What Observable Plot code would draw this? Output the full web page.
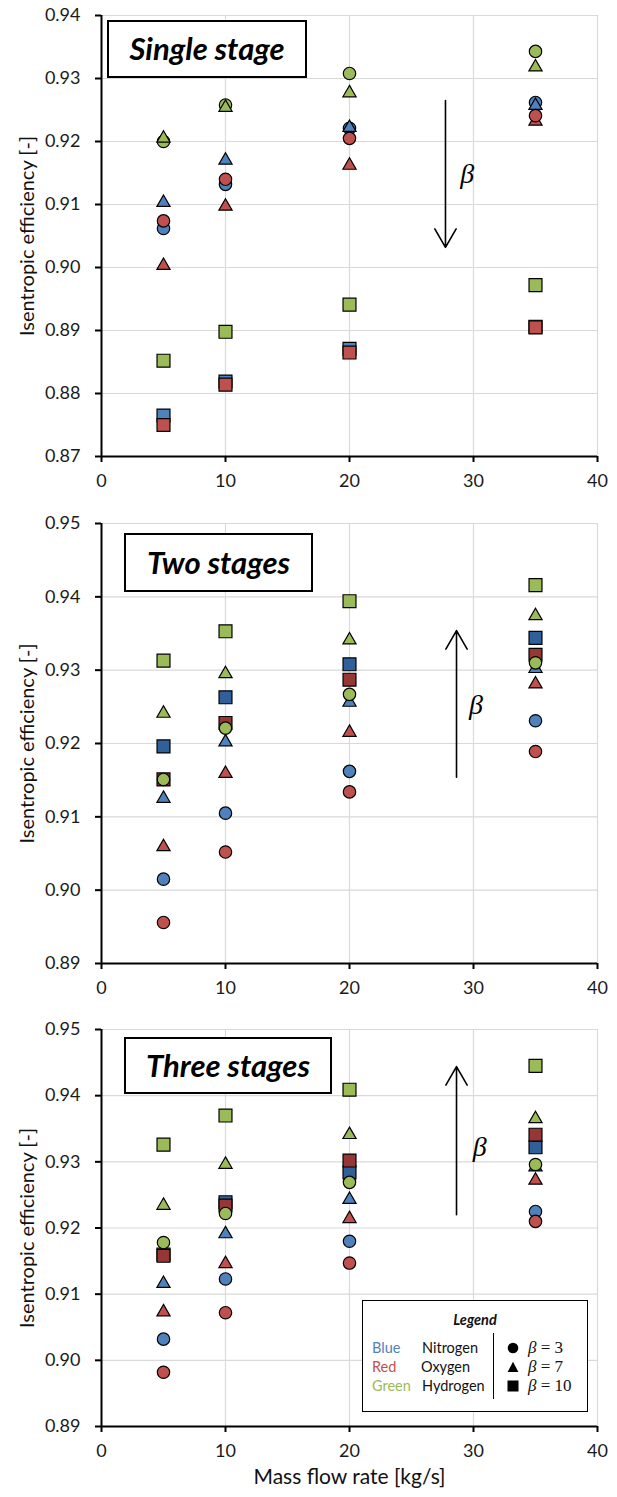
<!DOCTYPE html>
<html><head><meta charset="utf-8">
<script src="https://cdn.jsdelivr.net/npm/d3@7"></script>
<script src="https://cdn.jsdelivr.net/npm/@observablehq/plot@0.6"></script>
<style>
body{margin:0;background:#fff;font-family:Lato,"Open Sans",sans-serif;}
.panel{position:relative;width:617px;}
.panel svg{display:block;}
.tbox{position:absolute;border:2px solid #000;background:#fff;box-sizing:border-box;display:flex;align-items:center;justify-content:center;font-weight:bold;font-style:italic;font-size:31px;color:#000;padding-bottom:2px;}
.legend{position:absolute;border:1px solid #000;background:#fff;box-sizing:border-box;font-size:14.5px;color:#111;}
.legend div{position:absolute;white-space:nowrap;line-height:1;}
.math{font-family:"Liberation Serif",serif;font-size:17px;}
</style></head>
<body><div id="chart"></div>
<script>
// ---- data ----
const flows = [5, 10, 20, 35];            // mass flow rate [kg/s]
const gases = ["Nitrogen", "Oxygen", "Hydrogen"];
const betas = [3, 7, 10];

// Single stage: rows = beta 3, 7, 10 ; columns = flows
const single_N2 = [[0.9062, 0.9132, 0.9221, 0.9262], [0.9103, 0.9170, 0.9222, 0.9257], [0.8765, 0.8819, 0.8871, 0.8906]];
const single_O2 = [[0.9074, 0.9140, 0.9205, 0.9241], [0.9003, 0.9097, 0.9162, 0.9232], [0.8750, 0.8814, 0.8865, 0.8905]];
const single_H2 = [[0.9200, 0.9258, 0.9308, 0.9343], [0.9205, 0.9254, 0.9277, 0.9318], [0.8852, 0.8898, 0.8941, 0.8972]];

// Two stages
const two_N2 = [[0.9015, 0.9105, 0.9162, 0.9231], [0.9125, 0.9202, 0.9256, 0.9302], [0.9196, 0.9263, 0.9308, 0.9344]];
const two_O2 = [[0.8956, 0.9052, 0.9134, 0.9189], [0.9059, 0.9159, 0.9215, 0.9281], [0.9151, 0.9228, 0.9287, 0.9321]];
const two_H2 = [[0.9151, 0.9221, 0.9267, 0.9310], [0.9241, 0.9295, 0.9341, 0.9374], [0.9313, 0.9353, 0.9394, 0.9416]];

// Three stages
const three_N2 = [[0.9032, 0.9123, 0.9180, 0.9225], [0.9116, 0.9191, 0.9243, 0.9292], [0.9160, 0.9239, 0.9284, 0.9322]];
const three_O2 = [[0.8982, 0.9072, 0.9147, 0.9210], [0.9073, 0.9146, 0.9214, 0.9272], [0.9158, 0.9234, 0.9302, 0.9341]];
const three_H2 = [[0.9178, 0.9222, 0.9269, 0.9296], [0.9234, 0.9296, 0.9341, 0.9365], [0.9326, 0.9370, 0.9409, 0.9445]];

const xTicks = [0, 10, 20, 30, 40];
const yTicksSingle = [0.87, 0.88, 0.89, 0.90, 0.91, 0.92, 0.93, 0.94];
const yTicksMulti = [0.89, 0.90, 0.91, 0.92, 0.93, 0.94, 0.95];
const panelTitles = ["Single stage", "Two stages", "Three stages"];

// beta-direction arrows (data coordinates) and beta label positions
const arrowSingle = {x1: 27.74, y1: 0.9265, x2: 27.74, y2: 0.9032};
const arrowTwo = {x1: 28.63, y1: 0.9154, x2: 28.63, y2: 0.9354};
const arrowThree = {x1: 28.63, y1: 0.9220, x2: 28.63, y2: 0.9444};
const betaLabelSingle = {x: 29.5, y: 0.9149};
const betaLabelTwo = {x: 30.2, y: 0.9252};
const betaLabelThree = {x: 30.5, y: 0.9322};

// ---- styling ----
const BLUE = "#4f81bd", RED = "#c0504d", GREEN = "#9bbb59";
const DBLUE = "#30609a", DRED = "#953735";
const symbolOf = {3: "circle", 7: "triangle", 10: "square"};
const rOf = {3: 6.2, 7: 4.9, 10: 7.3};

function rows(matrix, gas, bi) {
  return flows.map((f, i) => ({flow: f, eff: matrix[bi][i], gas, beta: betas[bi]}));
}

function panel(opts) {
  const {N2, O2, H2, height, marginTop, marginBottom, yDomain, yTicks, sqBlue, sqRed, arrow, betaPos, xLabel} = opts;
  const colorOf = {Nitrogen: [BLUE, BLUE, sqBlue], Oxygen: [RED, RED, sqRed], Hydrogen: [GREEN, GREEN, GREEN]};
  const mats = {Nitrogen: N2, Oxygen: O2, Hydrogen: H2};
  // series drawing order (as in the original spreadsheet)
  const order = [["Nitrogen", 0], ["Nitrogen", 1], ["Nitrogen", 2], ["Oxygen", 1], ["Oxygen", 0], ["Oxygen", 2], ["Hydrogen", 0], ["Hydrogen", 1], ["Hydrogen", 2]];
  const dotMarks = order.map(([g, bi]) => Plot.dot(rows(mats[g], g, bi), {
    x: "flow", y: "eff", symbol: () => symbolOf[betas[bi]], r: rOf[betas[bi]],
    fill: colorOf[g][bi], stroke: "#000", strokeWidth: 1.2
  }));
  const marks = [
    Plot.gridX(xTicks.slice(1), {stroke: "#d9d9d9", strokeOpacity: 1, strokeWidth: 1.2}),
    Plot.gridY(yTicks, {stroke: "#d9d9d9", strokeOpacity: 1, strokeWidth: 1.2}),
    Plot.axisY(yTicks, {tickSize: 6, tickPadding: 15, fontSize: 18, strokeWidth: 2, fill: "#1a1a1a", tickFormat: d => d.toFixed(2), label: null}),
    Plot.axisX(xTicks, {tickSize: 6, tickPadding: 12, fontSize: 18, strokeWidth: 2, fill: "#1a1a1a", label: null}),
    Plot.ruleX([0], {stroke: "#000", strokeWidth: 2}),
    Plot.ruleY([yDomain[0]], {stroke: "#000", strokeWidth: 2}),
    ...dotMarks,
    Plot.arrow([arrow], {x1: "x1", y1: "y1", x2: "x2", y2: "y2", stroke: "#000", strokeWidth: 1.6, headLength: 20, headAngle: 60}),
    Plot.text([betaPos], {x: "x", y: "y", text: () => "β", fontFamily: "Liberation Serif", fontStyle: "italic", fontSize: 28, fill: "#000"}),
    Plot.text(["Isentropic efficiency [-]"], {text: d => d, frameAnchor: "left", textAnchor: "middle", dx: -74, rotate: -90, fontSize: 20, fill: "#111"})
  ];
  if (xLabel) marks.push(Plot.text([xLabel], {text: d => d, frameAnchor: "bottom", dy: 57, fontSize: 21, fill: "#111"}));
  return Plot.plot({
    width: 617, height, marginLeft: 101, marginRight: 20, marginTop, marginBottom,
    style: {fontFamily: "Lato, 'Open Sans', sans-serif", background: "#fff", overflow: "visible"},
    x: {domain: [0, 40], label: null},
    y: {domain: yDomain, label: null},
    marks
  });
}

const root = document.getElementById("chart");
function addPanel(svg, title, box) {
  const div = document.createElement("div");
  div.className = "panel";
  div.appendChild(svg);
  const t = document.createElement("div");
  t.className = "tbox";
  Object.assign(t.style, {left: box[0] + "px", top: box[1] + "px", width: box[2] + "px", height: box[3] + "px"});
  t.textContent = title;
  div.appendChild(t);
  root.appendChild(div);
  return div;
}

addPanel(panel({N2: single_N2, O2: single_O2, H2: single_H2, height: 500, marginTop: 15, marginBottom: 44,
  yDomain: [0.87, 0.94], yTicks: yTicksSingle, sqBlue: BLUE, sqRed: RED, arrow: arrowSingle, betaPos: betaLabelSingle}),
  panelTitles[0], [107, 20, 200, 58]);
addPanel(panel({N2: two_N2, O2: two_O2, H2: two_H2, height: 510, marginTop: 23, marginBottom: 47,
  yDomain: [0.89, 0.95], yTicks: yTicksMulti, sqBlue: DBLUE, sqRed: DRED, arrow: arrowTwo, betaPos: betaLabelTwo}),
  panelTitles[1], [124, 33, 189, 59]);
const p3 = addPanel(panel({N2: three_N2, O2: three_O2, H2: three_H2, height: 487, marginTop: 19, marginBottom: 71,
  yDomain: [0.89, 0.95], yTicks: yTicksMulti, sqBlue: DBLUE, sqRed: DRED, arrow: arrowThree, betaPos: betaLabelThree,
  xLabel: "Mass flow rate [kg/s]"}),
  panelTitles[2], [124, 27, 208, 57]);

// legend (panel 3)
const legendColors = [["Blue", BLUE], ["Red", RED], ["Green", GREEN]];
const lg = document.createElement("div");
lg.className = "legend";
Object.assign(lg.style, {left: "362px", top: "290px", width: "226px", height: "112px"});
let html = `<div style="left:0;width:224px;top:12px;text-align:center;font-weight:bold;font-style:italic;font-size:14.5px">Legend</div>`;
html += `<div style="left:130px;top:32px;width:0;height:66px;border-left:1px solid #000"></div>`;
const shapes = [
  `<svg width="12" height="12"><circle cx="6" cy="6" r="5.3" fill="#000"/></svg>`,
  `<svg width="12" height="12"><path d="M6,0.8L11.4,11L0.6,11Z" fill="#000"/></svg>`,
  `<svg width="12" height="12"><rect x="0.5" y="0.5" width="11" height="11" fill="#000"/></svg>`
];
gases.forEach((g, i) => {
  const top = 40 + i * 19;
  html += `<div style="left:9px;top:${top}px;color:${legendColors[i][1]}">${legendColors[i][0]}</div>`;
  html += `<div style="left:${i === 1 ? 58 : 59}px;top:${top}px">${g}</div>`;
  html += `<div style="left:144px;top:${top + 1}px">${shapes[i]}</div>`;
  html += `<div class="math" style="left:165px;top:${top - 2}px"><i>β</i> = ${betas[i]}</div>`;
});
lg.innerHTML = html;
p3.appendChild(lg);
</script></body></html>
